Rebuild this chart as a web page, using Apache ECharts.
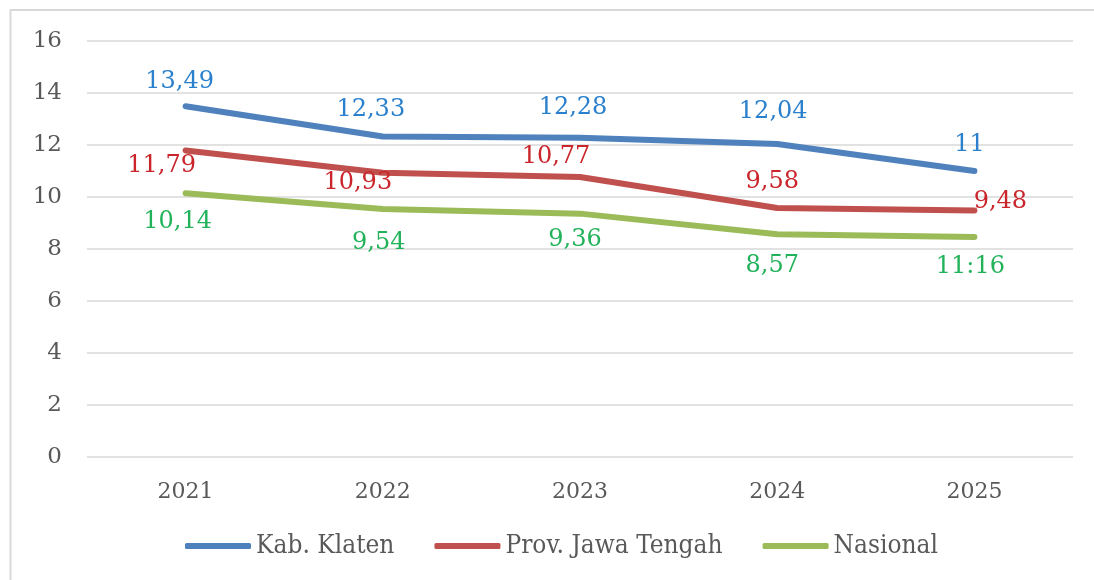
<!DOCTYPE html>
<html>
<head>
<meta charset="utf-8">
<script src="https://cdn.jsdelivr.net/npm/echarts@6/dist/echarts.min.js"></script>
<style>
  html, body { margin: 0; padding: 0; background: #ffffff; }
  #chart { width: 1094px; height: 580px; }
</style>
</head>
<body>
<div id="chart"></div>
<script>
// Years on the category axis
const years = ['2021', '2022', '2023', '2024', '2025'];

// Series values
const klaten = [13.49, 12.33, 12.28, 12.04, 11];
const jateng = [11.79, 10.93, 10.77, 9.58, 9.48];
const nasional = [10.14, 9.54, 9.36, 8.57, 8.46];

// Label text printed for the last Nasional point
const nasionalLabelText = [null, null, null, null, '11:16'];

// Y axis range
const yMin = 0, yMax = 16, yStep = 2;

// Label placement (offsets from each point, in px)
const klatenOffsets = [[-6, -24], [-12, -27], [-7, -30], [-4, -32], [-5, -26]];
const jatengOffsets = [[-24, 15], [-25, 10], [-24, -20], [-5, -26], [26, -9]];
const nasionalOffsets = [[-8, 28], [-4, 34], [-5, 26], [-5, 32], [-4, 30]];

const numFont = "'DejaVu Serif', 'Liberation Serif', serif";

function fmt(v) {
  return String(v).replace('.', ',');
}

function buildData(values, offsets, texts) {
  return values.map((v, i) => {
    const item = { value: v, label: { offset: offsets[i] } };
    if (texts && texts[i] != null) {
      const t = texts[i];
      item.label.formatter = () => t;
    }
    return item;
  });
}

function lineSeries(name, values, offsets, lineColor, labelColor, texts) {
  return {
    name: name,
    type: 'line',
    data: buildData(values, offsets, texts),
    symbol: 'circle',
    symbolSize: 1,
    smooth: false,
    lineStyle: { color: lineColor, width: 6, cap: 'round', join: 'round' },
    itemStyle: { color: lineColor },
    emphasis: { disabled: true },
    label: {
      show: true,
      position: 'inside',
      color: labelColor,
      fontFamily: numFont,
      fontSize: 24,
      formatter: p => fmt(p.value)
    }
  };
}

const chart = echarts.init(document.getElementById('chart'), null, { renderer: 'canvas' });

chart.setOption({
  animation: false,
  backgroundColor: '#ffffff',
  // Frame: top and left edges only
  graphic: [
    {
      type: 'polyline',
      shape: { points: [[10.5, 580], [10.5, 10], [1094, 10]] },
      style: { fill: 'none', stroke: '#d9d9d9', lineWidth: 2 },
      silent: true
    }
  ],
  grid: { left: 87, right: 21, top: 41, bottom: 123 },
  xAxis: {
    type: 'category',
    data: years,
    boundaryGap: true,
    axisLine: { show: false },
    axisTick: { show: false },
    axisLabel: {
      color: '#595959',
      fontFamily: numFont,
      fontSize: 22,
      margin: 24
    }
  },
  yAxis: {
    type: 'value',
    min: yMin,
    max: yMax,
    interval: yStep,
    axisLine: { show: false },
    axisTick: { show: false },
    splitLine: { lineStyle: { color: '#d9d9d9', width: 1.5 } },
    axisLabel: {
      color: '#595959',
      fontFamily: numFont,
      fontSize: 23,
      margin: 25
    }
  },
  legend: {
    bottom: 16,
    left: 180,
    icon: 'roundRect',
    itemWidth: 66,
    itemHeight: 6,
    itemGap: 40,
    textStyle: {
      color: '#595959',
      fontFamily: "'DejaVu Serif Condensed', 'Liberation Serif', serif",
      fontSize: 26
    },
    data: ['Kab. Klaten', 'Prov. Jawa Tengah', 'Nasional']
  },
  series: [
    lineSeries('Kab. Klaten', klaten, klatenOffsets, '#4f81bd', '#2a80cc'),
    lineSeries('Prov. Jawa Tengah', jateng, jatengOffsets, '#c0504d', '#c9252b'),
    lineSeries('Nasional', nasional, nasionalOffsets, '#9bbb59', '#22b25a', nasionalLabelText)
  ]
});
</script>
</body>
</html>
